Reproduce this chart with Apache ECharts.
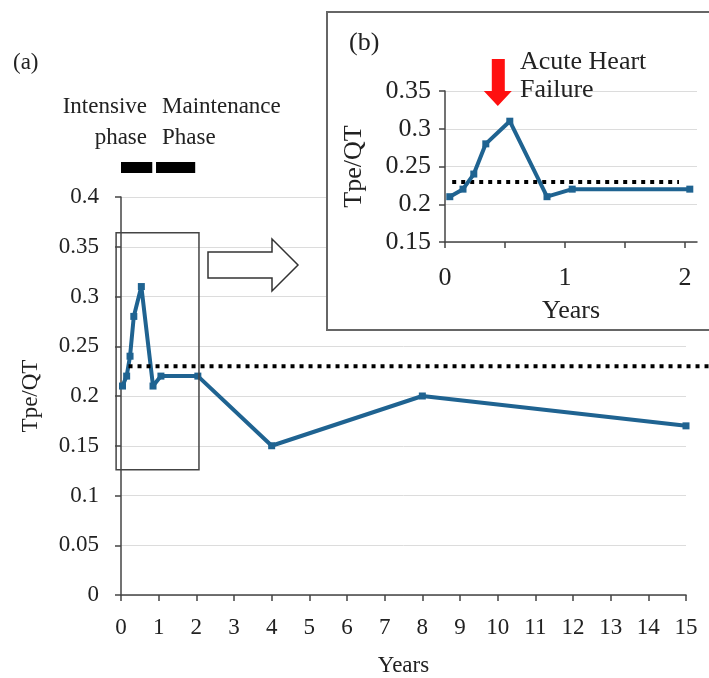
<!DOCTYPE html>
<html><head><meta charset="utf-8">
<script src="https://cdn.jsdelivr.net/npm/echarts@6/dist/echarts.min.js"></script>
<style>html,body{margin:0;padding:0;background:#fff}#c{width:709px;height:678px}</style>
</head><body><div id="c"></div>
<script>
// ---- data ----
const years = [0.04, 0.15, 0.24, 0.34, 0.54, 0.85, 1.06, 2.04, 4, 8, 15];
const tpeQt = [0.21, 0.22, 0.24, 0.28, 0.31, 0.21, 0.22, 0.22, 0.15, 0.20, 0.17];
const insetCount = 8;            // points shown in inset (b)
const threshold = 0.23;          // dotted reference line
const mainYTicks = [0, 0.05, 0.1, 0.15, 0.2, 0.25, 0.3, 0.35, 0.4];
const mainXTicks = [0,1,2,3,4,5,6,7,8,9,10,11,12,13,14,15];
const insetYTicks = [0.15, 0.2, 0.25, 0.3, 0.35];
const insetXTicks = [0, 0.5, 1, 1.5, 2];
const insetXLabels = [0, 1, 2];
const phaseNames = ['Intensive\nphase', 'Maintenance\nPhase'];
const phaseFrom = [0, 0.93];
const phaseTo = [0.83, 1.97];
const zoomBoxX = [-0.13, 2.07];
const zoomBoxY = [0.126, 0.364];

const FONT = '"Liberation Serif", "DejaVu Serif", serif';
const BLUE = '#1f6391';
const TXT = '#222';

const mainData = years.map((x, i) => [x, tpeQt[i]]);
const insetData = mainData.slice(0, insetCount);

const chart = echarts.init(document.getElementById('c'), null, {renderer: 'canvas'});

const axisLineStyle = {color: '#444', width: 1.5};
const option = {
  animation: false,
  backgroundColor: '#fff',
  grid: [
    {left: 121, right: 23, top: 197, bottom: 83, containLabel: false, outerBoundsMode: 'none'},
    {left: 445, right: 12, top: 91, bottom: 436, containLabel: false, outerBoundsMode: 'none'}
  ],
  xAxis: [
    {
      gridIndex: 0, type: 'value', min: 0, max: 15, interval: 1,
      name: 'Years', nameLocation: 'middle', nameGap: 59,
      nameTextStyle: {fontFamily: FONT, fontSize: 23, color: TXT},
      axisLine: {show: true, onZero: false, lineStyle: axisLineStyle},
      axisTick: {show: true, length: 6, lineStyle: axisLineStyle, customValues: mainXTicks},
      axisLabel: {fontFamily: FONT, fontSize: 23, color: TXT, margin: 21, customValues: mainXTicks},
      splitLine: {show: false}
    },
    {
      gridIndex: 1, type: 'value', min: 0, max: 2.1, interval: 0.5, z: 5,
      name: 'Years', nameLocation: 'middle', nameGap: 56,
      nameTextStyle: {fontFamily: FONT, fontSize: 26, color: TXT},
      axisLine: {show: true, onZero: false, lineStyle: axisLineStyle},
      axisTick: {show: true, length: 6, lineStyle: axisLineStyle, customValues: insetXTicks},
      axisLabel: {fontFamily: FONT, fontSize: 26, color: TXT, margin: 23, customValues: insetXLabels},
      splitLine: {show: false}
    }
  ],
  yAxis: [
    {
      gridIndex: 0, type: 'value', min: 0, max: 0.4, interval: 0.05,
      name: 'Tpe/QT', nameLocation: 'middle', nameGap: 79, nameRotate: 90,
      nameTextStyle: {fontFamily: FONT, fontSize: 23, color: TXT},
      axisLine: {show: true, lineStyle: axisLineStyle},
      axisTick: {show: true, length: 6, lineStyle: axisLineStyle},
      axisLabel: {fontFamily: FONT, fontSize: 23, color: TXT, margin: 22},
      splitLine: {show: true, lineStyle: {color: '#dcdcdc', width: 1}}
    },
    {
      gridIndex: 1, type: 'value', min: 0.15, max: 0.35, interval: 0.05, z: 5,
      name: 'Tpe/QT', nameLocation: 'middle', nameGap: 78, nameRotate: 90,
      nameTextStyle: {fontFamily: FONT, fontSize: 26, color: TXT},
      axisLine: {show: true, lineStyle: axisLineStyle},
      axisTick: {show: true, length: 6, lineStyle: axisLineStyle},
      axisLabel: {fontFamily: FONT, fontSize: 26, color: TXT, margin: 14},
      splitLine: {show: true, lineStyle: {color: '#dcdcdc', width: 1}}
    }
  ],
  series: [
    {
      type: 'line', xAxisIndex: 0, yAxisIndex: 0, data: mainData,
      symbol: 'rect', symbolSize: 7, z: 3,
      lineStyle: {color: BLUE, width: 4}, itemStyle: {color: BLUE},
      emphasis: {disabled: true}, silent: true
    },
    {
      type: 'line', xAxisIndex: 1, yAxisIndex: 1, data: insetData,
      symbol: 'rect', symbolSize: 7, z: 7,
      lineStyle: {color: BLUE, width: 4}, itemStyle: {color: BLUE},
      emphasis: {disabled: true}, silent: true,
      markLine: {
        silent: true, symbol: 'none', label: {show: false},
        lineStyle: {color: '#000', width: 4, type: [4, 5]},
        data: [[{coord: [0.06, threshold]}, {coord: [1.95, threshold]}]]
      }
    }
  ]
};
chart.setOption(option);

// ---- annotations, positioned through the axes' scales ----
const p0 = (x, y) => chart.convertToPixel({gridIndex: 0}, [x, y]);
const p1 = (x, y) => chart.convertToPixel({gridIndex: 1}, [x, y]);

const g = [];
// white inset panel (b)
g.push({type: 'rect', z: 3, shape: {x: 327, y: 12, width: 420, height: 318},
  style: {fill: '#fff', stroke: '#666', lineWidth: 2}});
// main dotted threshold line
const dl = p0(0.2, threshold);
g.push({type: 'line', z: 4, shape: {x1: dl[0], y1: dl[1], x2: 709, y2: dl[1]},
  style: {stroke: '#000', lineWidth: 4, lineDash: [4, 5]}});
// zoom rectangle
const zb0 = p0(zoomBoxX[0], zoomBoxY[1]);
const zb1 = p0(zoomBoxX[1], zoomBoxY[0]);
g.push({type: 'rect', z: 10, shape: {x: zb0[0], y: zb0[1], width: zb1[0] - zb0[0], height: zb1[1] - zb0[1]},
  style: {fill: 'none', stroke: '#444', lineWidth: 1.5}});
// hollow arrow
g.push({type: 'polygon', z: 10, shape: {points: [[208,252],[272,252],[272,239],[298,265],[272,291],[272,278],[208,278]]},
  style: {fill: '#fff', stroke: '#333', lineWidth: 1.5}});
// phase bars and labels
for (let i = 0; i < phaseNames.length; i++) {
  const a = p0(phaseFrom[i], 0), b = p0(phaseTo[i], 0);
  g.push({type: 'rect', z: 10, shape: {x: a[0], y: 162, width: b[0] - a[0], height: 11}, style: {fill: '#000'}});
}
g.push({type: 'text', z: 10, x: 147, y: 122.5, style: {text: phaseNames[0], font: '23px ' + FONT, fill: TXT,
  align: 'right', verticalAlign: 'middle', lineHeight: 31}});
g.push({type: 'text', z: 10, x: 162, y: 122.5, style: {text: phaseNames[1], font: '23px ' + FONT, fill: TXT,
  align: 'left', verticalAlign: 'middle', lineHeight: 31}});
// panel labels
g.push({type: 'text', z: 10, x: 13, y: 63, style: {text: '(a)', font: '23px ' + FONT, fill: TXT, align: 'left', verticalAlign: 'middle'}});
g.push({type: 'text', z: 10, x: 349, y: 43, style: {text: '(b)', font: '26px ' + FONT, fill: TXT, align: 'left', verticalAlign: 'middle'}});
// acute heart failure annotation
g.push({type: 'text', z: 10, x: 520, y: 76, style: {text: 'Acute Heart\nFailure', font: '26px ' + FONT, fill: TXT,
  align: 'left', verticalAlign: 'middle', lineHeight: 28}});
const tip = p1(0.44, 0.33);
const tx = tip[0], ty = tip[1];
g.push({type: 'polygon', z: 10, shape: {points: [[tx-6,ty-47],[tx+7,ty-47],[tx+7,ty-15],[tx+14,ty-15],[tx,ty],[tx-14,ty-15],[tx-6,ty-15]]},
  style: {fill: '#ff1010'}});

chart.setOption({graphic: {elements: g}});
</script></body></html>
